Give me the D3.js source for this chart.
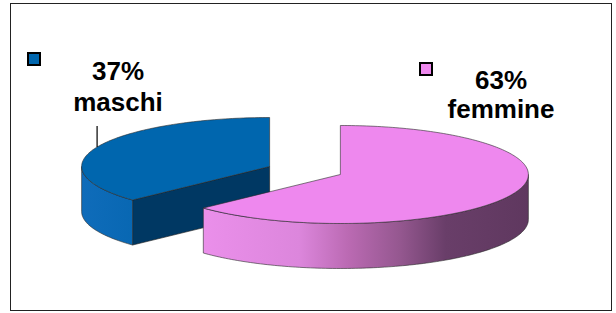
<!DOCTYPE html>
<html>
<head>
<meta charset="utf-8">
<script src="https://cdn.jsdelivr.net/npm/d3@7"></script>
<style>
  body { margin: 0; background: #fff; }
  svg text { font-family: "Liberation Sans", Arial, sans-serif; font-weight: bold; }
</style>
</head>
<body>
<div id="pie-chart"></div>
<script>
// data
const categories = ["maschi", "femmine"];
const values = [37, 63];
const labels = ["37%", "63%"];

const colors = {
	maschi: { top: "#0066ae", face: "#003863" },
	femmine: { top: "#ee88ee", face: "#8a4c8a" }
};

const width = 616, height = 313;
const cx = 305, cy = 170.5, rx = 188, ry = 49, depth = 45, explode = 0.205;

let svg = d3.select("#pie-chart").append("svg")
	.attr("width", width)
	.attr("height", height);

// chart frame
svg.append("rect")
	.attr("x", 10.5).attr("y", 3.5)
	.attr("width", 601).attr("height", 307)
	.attr("fill", "#fff")
	.attr("stroke", "#222")
	.attr("stroke-width", 1);

let total = d3.sum(values);
let pie = d3.pie()
	.sort(null)
	.startAngle(-values[0] / total * 2 * Math.PI)
	.endAngle(values[1] / total * 2 * Math.PI);

let slices = pie(values).map(function(d, i) {
	let mid = (d.startAngle + d.endAngle) / 2;
	return {
		name: categories[i],
		label: labels[i],
		a0: d.startAngle,
		a1: d.endAngle,
		mid: mid,
		x: cx + explode * rx * Math.sin(mid),
		y: cy - explode * ry * Math.cos(mid)
	};
});

// side gradients
let defs = svg.append("defs");
slices.forEach(function(s) {
	let g = defs.append("linearGradient")
		.attr("id", "side-" + s.name)
		.attr("gradientUnits", "userSpaceOnUse")
		.attr("x1", s.x - rx).attr("x2", s.x + rx)
		.attr("y1", 0).attr("y2", 0);
	let stops = s.name === "femmine"
		? [[0, "#f294f2"], [0.39, "#dc86dc"], [0.52, "#bb6ab3"], [0.66, "#94578f"], [0.78, "#693e69"], [1, "#5f385f"]]
		: [[0, "#0f6cba"], [0.3, "#0062aa"], [1, "#0062aa"]];
	stops.forEach(function(st) {
		g.append("stop").attr("offset", st[0]).attr("stop-color", st[1]);
	});
});

function pt(s, a, dy) {
	return [s.x + rx * Math.sin(a), s.y - ry * Math.cos(a) + (dy || 0)];
}

function arcPoints(s, from, to, dy) {
	let n = Math.max(2, Math.ceil(Math.abs(to - from) / 0.02));
	return d3.range(n + 1).map(function(k) {
		return pt(s, from + (to - from) * k / n, dy);
	});
}

let line = d3.line();

slices.forEach(function(s) {
	let g = svg.append("g").attr("class", "slice");
	let c = colors[s.name];
	// cut face at start angle (visible when it faces the viewer)
	if (Math.cos(s.a0 - Math.PI / 2) < -1e-6) {
		let p = pt(s, s.a0);
		g.append("path")
			.attr("d", line([[s.x, s.y], p, [p[0], p[1] + depth], [s.x, s.y + depth]]) + "Z")
			.attr("fill", c.face).attr("stroke", "#1a1a1a").attr("stroke-width", 0.6);
	}
	if (Math.sin(s.a1) > 1e-6) {
		let p = pt(s, s.a1);
		g.append("path")
			.attr("d", line([[s.x, s.y], p, [p[0], p[1] + depth], [s.x, s.y + depth]]) + "Z")
			.attr("fill", c.face).attr("stroke", "#1a1a1a").attr("stroke-width", 0.6);
	}
	// outer side: front half of ellipse (PI/2 .. 3PI/2)
	let a0 = s.a0, a1 = s.a1;
	if (a0 < 0) { a0 += 2 * Math.PI; a1 += 2 * Math.PI; }
	let from = Math.max(a0, Math.PI / 2), to = Math.min(a1, 3 * Math.PI / 2);
	if (to > from) {
		let topEdge = arcPoints(s, from, to, 0);
		let botEdge = arcPoints(s, to, from, depth);
		g.append("path")
			.attr("d", line(topEdge.concat(botEdge)) + "Z")
			.attr("fill", "url(#side-" + s.name + ")")
			.attr("stroke", "#2a2a2a").attr("stroke-width", 0.6);
	}
	// top face
	let topPts = [[s.x, s.y]].concat(arcPoints(s, s.a0, s.a1, 0));
	g.append("path")
		.attr("d", line(topPts) + "Z")
		.attr("fill", c.top)
		.attr("stroke", "#2a2a2a").attr("stroke-width", 0.6);
});

// leader line for maschi
let m = slices[0];
let lp = pt(m, m.mid);
svg.append("line")
	.attr("x1", lp[0]).attr("x2", lp[0])
	.attr("y1", lp[1]).attr("y2", lp[1] - 21)
	.attr("stroke", "#000").attr("stroke-width", 1.2);

// data labels with legend keys
let labelPos = [
	{ key: [27, 52], text: [118, 80, 111] },
	{ key: [419, 62], text: [501, 89, 118] }
];
slices.forEach(function(s, i) {
	let lpz = labelPos[i];
	svg.append("rect")
		.attr("x", lpz.key[0] + 1).attr("y", lpz.key[1] + 1)
		.attr("width", 12).attr("height", 12)
		.attr("fill", colors[s.name].top)
		.attr("stroke", "#000").attr("stroke-width", 2);
	let t = svg.append("text")
		.attr("text-anchor", "middle")
		.attr("font-size", 26)
		.attr("fill", "#000");
	t.append("tspan").attr("x", lpz.text[0]).attr("y", lpz.text[1]).text(s.label);
	t.append("tspan").attr("x", lpz.text[0]).attr("y", lpz.text[2]).text(s.name);
});
</script>
</body>
</html>
